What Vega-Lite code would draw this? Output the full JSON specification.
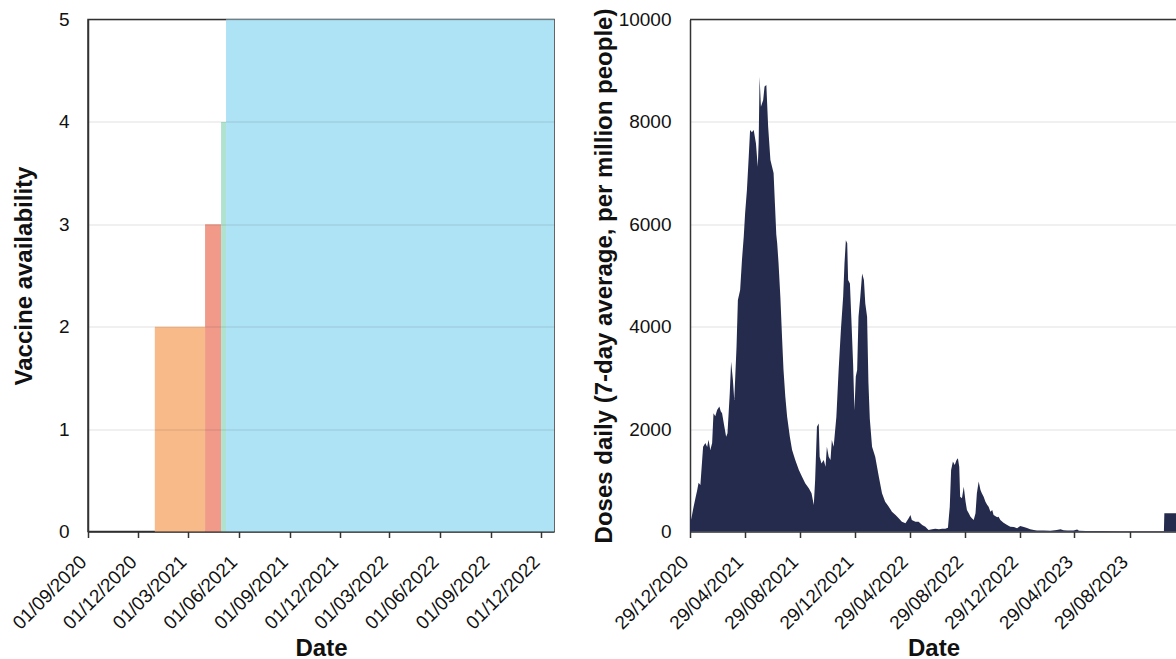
{
  "$schema": "https://vega.github.io/schema/vega-lite/v6.json",
  "background": "white",
  "padding": {"left": 8, "top": 7.5, "right": 0, "bottom": 0},
  "spacing": 37,
  "config": {
    "font": "Liberation Sans",
    "view": {"stroke": null},
    "axis": {
      "labelFontSize": 19,
      "labelColor": "#111111",
      "titleFontSize": 24,
      "titleFontWeight": "bold",
      "titleColor": "#111111",
      "domainColor": "#333333",
      "domainWidth": 1.5,
      "tickColor": "#333333",
      "tickWidth": 1.5,
      "tickSize": 6,
      "gridColor": "#000000",
      "gridOpacity": 0.12,
      "gridWidth": 1
    },
    "axisX": {
      "labelOverlap": false,
      "labelAngle": -45,
      "labelAlign": "right",
      "labelBaseline": "middle",
      "labelPadding": 21,
      "labelOffset": -5
    }
  },
  "hconcat": [
    {
      "width": 466,
      "height": 512,
      "view": {"stroke": "#333333", "strokeWidth": 1.5},
      "data": {
        "values": [
          {"start": "2020/12/31", "end": "2021/04/01", "vaccines": 2},
          {"start": "2021/04/01", "end": "2021/04/30", "vaccines": 3},
          {"start": "2021/04/30", "end": "2021/05/09", "vaccines": 4},
          {"start": "2021/05/09", "end": "2022/12/24", "vaccines": 5}
        ]
      },
      "mark": {"type": "rect"},
      "encoding": {
        "x": {
          "field": "start",
          "type": "temporal",
          "title": "Date",
          "scale": {"domain": [{"year": 2020, "month": 9, "date": 1}, {"year": 2022, "month": 12, "date": 24}]},
          "axis": {
            "grid": false,
            "format": "%d/%m/%Y",
            "titlePadding": 4,
            "values": [
              {"year": 2020, "month": 9, "date": 1},
              {"year": 2020, "month": 12, "date": 1},
              {"year": 2021, "month": 3, "date": 1},
              {"year": 2021, "month": 6, "date": 1},
              {"year": 2021, "month": 9, "date": 1},
              {"year": 2021, "month": 12, "date": 1},
              {"year": 2022, "month": 3, "date": 1},
              {"year": 2022, "month": 6, "date": 1},
              {"year": 2022, "month": 9, "date": 1},
              {"year": 2022, "month": 12, "date": 1}
            ]
          }
        },
        "x2": {"field": "end"},
        "y": {
          "field": "vaccines",
          "type": "quantitative",
          "title": "Vaccine availability",
          "scale": {"domain": [0, 5]},
          "axis": {"values": [0, 1, 2, 3, 4, 5], "ticks": false, "labelPadding": 19, "titlePadding": 22, "zindex": 1}
        },
        "y2": {"datum": 0},
        "color": {
          "field": "vaccines",
          "type": "ordinal",
          "scale": {"domain": [2, 3, 4, 5], "range": ["#f9ba8a", "#f19a8a", "#b0e2d0", "#aee3f5"]},
          "legend": null
        }
      }
    },
    {
      "width": 487,
      "height": 512,
      "layer": [
        {
          "data": {
            "values": [
              {"date": "2020/12/29", "doses": 350},
              {"date": "2020/12/31", "doses": 220},
              {"date": "2021/01/02", "doses": 300},
              {"date": "2021/01/06", "doses": 485},
              {"date": "2021/01/10", "doses": 650},
              {"date": "2021/01/14", "doses": 810},
              {"date": "2021/01/17", "doses": 950},
              {"date": "2021/01/21", "doses": 910},
              {"date": "2021/01/27", "doses": 1655},
              {"date": "2021/02/01", "doses": 1730},
              {"date": "2021/02/05", "doses": 1650},
              {"date": "2021/02/08", "doses": 1790},
              {"date": "2021/02/12", "doses": 1590},
              {"date": "2021/02/16", "doses": 1730},
              {"date": "2021/02/19", "doses": 2310},
              {"date": "2021/02/23", "doses": 2250},
              {"date": "2021/02/27", "doses": 2375},
              {"date": "2021/03/04", "doses": 2440},
              {"date": "2021/03/07", "doses": 2350},
              {"date": "2021/03/10", "doses": 2310},
              {"date": "2021/03/15", "doses": 2050},
              {"date": "2021/03/19", "doses": 1850},
              {"date": "2021/03/22", "doses": 1920},
              {"date": "2021/03/27", "doses": 2700},
              {"date": "2021/03/30", "doses": 3315},
              {"date": "2021/04/03", "doses": 2960},
              {"date": "2021/04/06", "doses": 2570},
              {"date": "2021/04/11", "doses": 3610},
              {"date": "2021/04/14", "doses": 4520},
              {"date": "2021/04/19", "doses": 4715},
              {"date": "2021/04/23", "doses": 5300},
              {"date": "2021/04/27", "doses": 5760},
              {"date": "2021/04/30", "doses": 6215},
              {"date": "2021/05/04", "doses": 6670},
              {"date": "2021/05/08", "doses": 7320},
              {"date": "2021/05/11", "doses": 7840},
              {"date": "2021/05/15", "doses": 7800},
              {"date": "2021/05/19", "doses": 7840},
              {"date": "2021/05/24", "doses": 7580},
              {"date": "2021/05/28", "doses": 7125},
              {"date": "2021/05/30", "doses": 7600},
              {"date": "2021/06/01", "doses": 8880},
              {"date": "2021/06/04", "doses": 8295},
              {"date": "2021/06/09", "doses": 8430},
              {"date": "2021/06/12", "doses": 8690},
              {"date": "2021/06/16", "doses": 8720},
              {"date": "2021/06/20", "doses": 7905},
              {"date": "2021/06/25", "doses": 7255},
              {"date": "2021/07/02", "doses": 7000},
              {"date": "2021/07/05", "doses": 6400},
              {"date": "2021/07/08", "doses": 5800},
              {"date": "2021/07/10", "doses": 5630},
              {"date": "2021/07/13", "doses": 5240},
              {"date": "2021/07/17", "doses": 4585},
              {"date": "2021/07/21", "doses": 3740},
              {"date": "2021/07/24", "doses": 3155},
              {"date": "2021/07/28", "doses": 2630},
              {"date": "2021/08/01", "doses": 2240},
              {"date": "2021/08/07", "doses": 1850},
              {"date": "2021/08/12", "doses": 1590},
              {"date": "2021/08/19", "doses": 1395},
              {"date": "2021/08/27", "doses": 1200},
              {"date": "2021/09/03", "doses": 1070},
              {"date": "2021/09/10", "doses": 940},
              {"date": "2021/09/18", "doses": 845},
              {"date": "2021/09/24", "doses": 745},
              {"date": "2021/09/29", "doses": 520},
              {"date": "2021/10/02", "doses": 1005},
              {"date": "2021/10/06", "doses": 2045},
              {"date": "2021/10/10", "doses": 2110},
              {"date": "2021/10/12", "doses": 1460},
              {"date": "2021/10/16", "doses": 1330},
              {"date": "2021/10/21", "doses": 1395},
              {"date": "2021/10/25", "doses": 1265},
              {"date": "2021/10/28", "doses": 1655},
              {"date": "2021/11/01", "doses": 1460},
              {"date": "2021/11/05", "doses": 1395},
              {"date": "2021/11/08", "doses": 1785},
              {"date": "2021/11/12", "doses": 1655},
              {"date": "2021/11/18", "doses": 2240},
              {"date": "2021/11/23", "doses": 3155},
              {"date": "2021/11/28", "doses": 3935},
              {"date": "2021/12/03", "doses": 4585},
              {"date": "2021/12/06", "doses": 5240},
              {"date": "2021/12/09", "doses": 5690},
              {"date": "2021/12/12", "doses": 5630},
              {"date": "2021/12/14", "doses": 4910},
              {"date": "2021/12/18", "doses": 4845},
              {"date": "2021/12/21", "doses": 4195},
              {"date": "2021/12/25", "doses": 3285},
              {"date": "2021/12/28", "doses": 2370},
              {"date": "2021/12/31", "doses": 3025},
              {"date": "2022/01/03", "doses": 3155},
              {"date": "2022/01/06", "doses": 4195},
              {"date": "2022/01/10", "doses": 4585},
              {"date": "2022/01/14", "doses": 5040},
              {"date": "2022/01/18", "doses": 4910},
              {"date": "2022/01/21", "doses": 4455},
              {"date": "2022/01/25", "doses": 4195},
              {"date": "2022/01/28", "doses": 2900},
              {"date": "2022/01/31", "doses": 2200},
              {"date": "2022/02/05", "doses": 1655},
              {"date": "2022/02/12", "doses": 1460},
              {"date": "2022/02/20", "doses": 1070},
              {"date": "2022/02/27", "doses": 745},
              {"date": "2022/03/06", "doses": 580},
              {"date": "2022/03/14", "doses": 485},
              {"date": "2022/03/21", "doses": 385},
              {"date": "2022/03/29", "doses": 320},
              {"date": "2022/04/05", "doses": 260},
              {"date": "2022/04/12", "doses": 190},
              {"date": "2022/04/20", "doses": 160},
              {"date": "2022/04/27", "doses": 260},
              {"date": "2022/05/01", "doses": 320},
              {"date": "2022/05/04", "doses": 225},
              {"date": "2022/05/12", "doses": 190},
              {"date": "2022/05/19", "doses": 190},
              {"date": "2022/05/27", "doses": 127},
              {"date": "2022/06/03", "doses": 95},
              {"date": "2022/06/10", "doses": 30},
              {"date": "2022/06/18", "doses": 43},
              {"date": "2022/06/25", "doses": 55},
              {"date": "2022/07/03", "doses": 43},
              {"date": "2022/07/10", "doses": 55},
              {"date": "2022/07/17", "doses": 55},
              {"date": "2022/07/23", "doses": 75},
              {"date": "2022/07/27", "doses": 485},
              {"date": "2022/07/30", "doses": 1200},
              {"date": "2022/08/03", "doses": 1365},
              {"date": "2022/08/07", "doses": 1300},
              {"date": "2022/08/11", "doses": 1395},
              {"date": "2022/08/14", "doses": 1430},
              {"date": "2022/08/17", "doses": 1265},
              {"date": "2022/08/19", "doses": 680},
              {"date": "2022/08/23", "doses": 650},
              {"date": "2022/08/27", "doses": 875},
              {"date": "2022/08/31", "doses": 580},
              {"date": "2022/09/03", "doses": 420},
              {"date": "2022/09/07", "doses": 355},
              {"date": "2022/09/11", "doses": 290},
              {"date": "2022/09/14", "doses": 260},
              {"date": "2022/09/18", "doses": 225},
              {"date": "2022/09/22", "doses": 355},
              {"date": "2022/09/25", "doses": 745},
              {"date": "2022/09/29", "doses": 975},
              {"date": "2022/10/03", "doses": 810},
              {"date": "2022/10/06", "doses": 745},
              {"date": "2022/10/10", "doses": 680},
              {"date": "2022/10/14", "doses": 580},
              {"date": "2022/10/18", "doses": 517},
              {"date": "2022/10/21", "doses": 485},
              {"date": "2022/10/25", "doses": 385},
              {"date": "2022/10/29", "doses": 420},
              {"date": "2022/11/01", "doses": 320},
              {"date": "2022/11/09", "doses": 277},
              {"date": "2022/11/12", "doses": 290},
              {"date": "2022/11/16", "doses": 225},
              {"date": "2022/11/23", "doses": 172},
              {"date": "2022/12/01", "doses": 127},
              {"date": "2022/12/08", "doses": 95},
              {"date": "2022/12/16", "doses": 87},
              {"date": "2022/12/23", "doses": 62},
              {"date": "2022/12/30", "doses": 107},
              {"date": "2023/01/07", "doses": 87},
              {"date": "2023/01/14", "doses": 70},
              {"date": "2023/01/21", "doses": 43},
              {"date": "2023/01/29", "doses": 30},
              {"date": "2023/02/05", "doses": 20},
              {"date": "2023/02/20", "doses": 20},
              {"date": "2023/03/07", "doses": 15},
              {"date": "2023/03/21", "doses": 30},
              {"date": "2023/03/29", "doses": 43},
              {"date": "2023/04/05", "doses": 25},
              {"date": "2023/04/13", "doses": 20},
              {"date": "2023/04/27", "doses": 20},
              {"date": "2023/05/05", "doses": 40},
              {"date": "2023/05/09", "doses": 15},
              {"date": "2023/05/25", "doses": 10},
              {"date": "2023/06/27", "doses": 8},
              {"date": "2023/08/10", "doses": 6},
              {"date": "2023/09/23", "doses": 5},
              {"date": "2023/11/13", "doses": 5},
              {"date": "2023/11/14", "doses": 355},
              {"date": "2023/12/12", "doses": 355}
            ]
          },
          "mark": {"type": "area", "color": "#252b4d", "interpolate": "linear"},
          "encoding": {
            "x": {
              "field": "date",
              "type": "temporal",
              "title": "Date",
              "scale": {"domain": [{"year": 2020, "month": 12, "date": 29}, {"year": 2023, "month": 12, "date": 12}]},
              "axis": {
                "grid": false,
                "format": "%d/%m/%Y",
                "titlePadding": 4,
                "values": [
                  {"year": 2020, "month": 12, "date": 29},
                  {"year": 2021, "month": 4, "date": 29},
                  {"year": 2021, "month": 8, "date": 29},
                  {"year": 2021, "month": 12, "date": 29},
                  {"year": 2022, "month": 4, "date": 29},
                  {"year": 2022, "month": 8, "date": 29},
                  {"year": 2022, "month": 12, "date": 29},
                  {"year": 2023, "month": 4, "date": 29},
                  {"year": 2023, "month": 8, "date": 29}
                ]
              }
            },
            "y": {
              "field": "doses",
              "type": "quantitative",
              "title": "Doses daily (7-day average, per million people)",
              "scale": {"domain": [0, 10000]},
              "axis": {"values": [0, 2000, 4000, 6000, 8000, 10000], "format": "d", "ticks": false, "labelPadding": 19, "titlePadding": 2}
            }
          }
        },
        {
          "data": {"values": [{"doses": 10000}]},
          "mark": {"type": "rule", "color": "#333333", "strokeWidth": 1.5},
          "encoding": {"y": {"field": "doses", "type": "quantitative"}}
        }
      ]
    }
  ]
}
